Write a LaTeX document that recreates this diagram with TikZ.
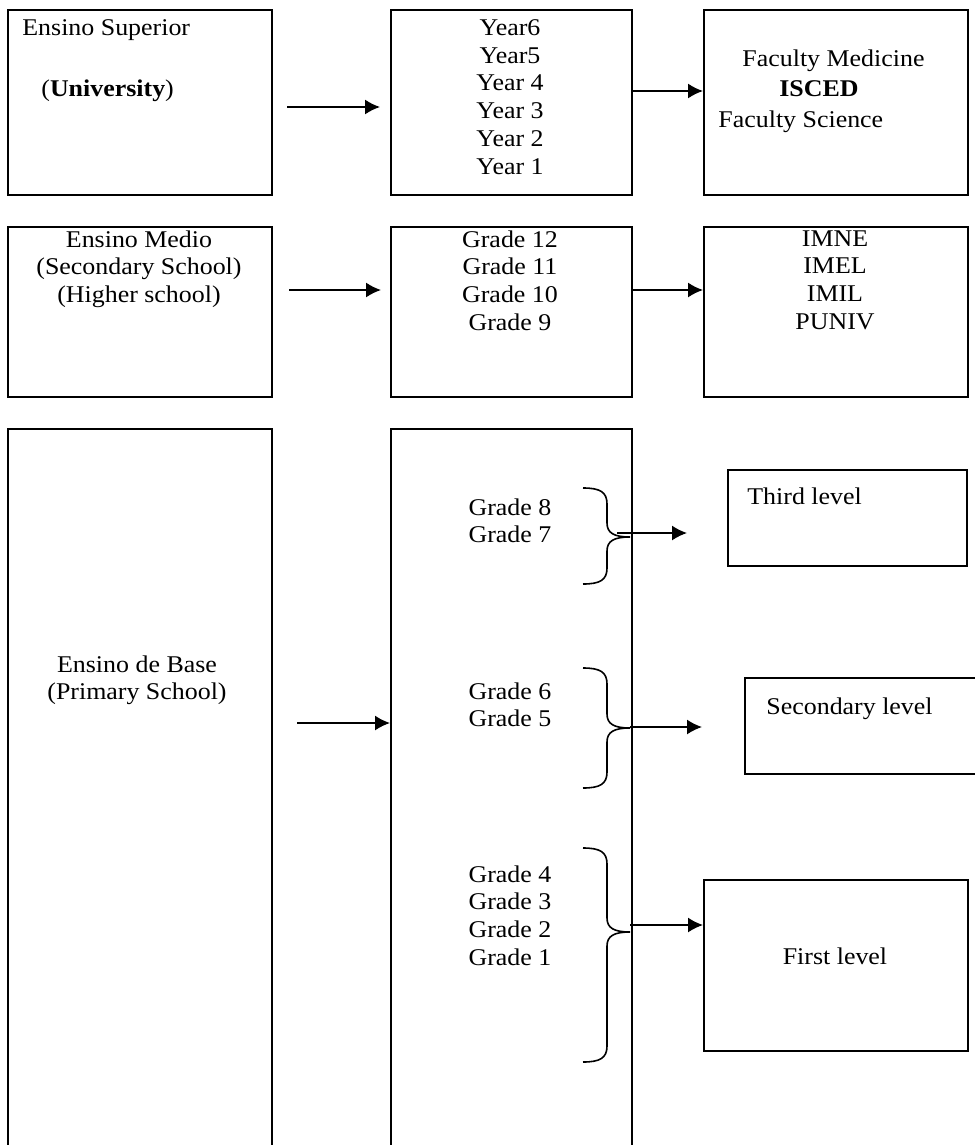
\documentclass[tikz,border=0pt]{standalone}
\usepackage{fontspec}
\setmainfont{Liberation Serif}[FakeStretch=1.08]
\usetikzlibrary{arrows.meta, positioning}
\tikzset{
  box/.style={
    rectangle,
    draw,
    line width=1pt,
    inner sep=0pt,
    anchor=north west
  },
  txt/.style={
    align=center,
    inner sep=0pt,
    anchor=north,
    font=\fontsize{12}{13.9}\selectfont
  },
  ltxt/.style={txt, anchor=north west},
  arrow/.style={-{Latex[length=7.5pt, width=7.5pt]}, line width=0.8pt},
  brace/.style={line width=0.8pt}
}
% curly bracket: top, tip, bottom
\newcommand{\levelbrace}[3]{%
  \draw[brace] (583,#1) .. controls (600,#1) and (607,{#1+4}) .. (607,{#1+16})
    -- (607,{#2-14}) .. controls (607,{#2-4}) and (614,#2) .. (630,#2)
    .. controls (614,#2) and (607,{#2+4}) .. (607,{#2+14})
    -- (607,{#3-16}) .. controls (607,{#3-4}) and (600,#3) .. (583,#3);}

\begin{document}
\begin{tikzpicture}[x=0.5pt, y=-0.5pt]
\useasboundingbox (0,0) rectangle (974,1145);

% university
\node[box, minimum width=132pt, minimum height=92.5pt] (superior) at (7,9) {};
\node[box, minimum width=120.5pt, minimum height=92.5pt] (years) at (390,9) {};
\node[box, minimum width=132pt, minimum height=92.5pt] (faculty) at (703,9) {};
\node[ltxt] (supname) at (22,19) {Ensino Superior};
\node[ltxt] (supsub) at (41,79) {(\textbf{University})};
\node[txt] (yearlist) at (510,19) {Year6\\Year5\\Year 4\\Year 3\\Year 2\\Year 1};
\node[ltxt] (facmed) at (742,49) {Faculty Medicine};
\node[ltxt] (isced) at (779,80) {\textbf{ISCED}};
\node[ltxt] (facsci) at (718,110) {Faculty Science};

\draw[arrow] ([xshift=7pt, yshift=-2.25pt]superior.east) -- ([xshift=-5pt, yshift=-2.25pt]years.west);
\draw[arrow] ([yshift=5.75pt]years.east) -- ([yshift=5.75pt]faculty.west);

% secondary school
\node[box, minimum width=132pt, minimum height=85pt] (medio) at (7,226) {};
\node[box, minimum width=120.5pt, minimum height=85pt] (grades) at (390,226) {};
\node[box, minimum width=132pt, minimum height=85pt] (institutes) at (703,226) {};
\node[txt] (medioname) at (139,230) {Ensino Medio\\(Secondary School)\\(Higher school)};
\node[txt] (gradelist) at (510,230) {Grade 12\\Grade 11\\Grade 10\\Grade 9};
\node[txt] (instlist) at (835,230) {IMNE\\IMEL\\IMIL\\PUNIV};

\draw[arrow] ([xshift=8pt, yshift=11pt]medio.east) -- ([xshift=-4.5pt, yshift=11pt]grades.west);
\draw[arrow] ([yshift=11pt]grades.east) -- ([yshift=11pt]institutes.west);

% primary school
\node[box, minimum width=132pt, minimum height=366pt] (base) at (7,428) {};
\node[box, minimum width=120.5pt, minimum height=366pt] (lower) at (390,428) {};
\node[txt] (basename) at (137,655) {Ensino de Base\\(Primary School)};
\node[txt] (grades87) at (510,498) {Grade 8\\Grade 7};
\node[txt] (grades65) at (510,682) {Grade 6\\Grade 5};
\node[txt] (grades41) at (510,865) {Grade 4\\Grade 3\\Grade 2\\Grade 1};

\draw[arrow] ([shift={(12pt,-147.5pt)}]base.north east) -- ([yshift=-147.5pt]lower.north west);

% levels
\node[box, minimum width=119.5pt, minimum height=48pt] (third) at (727,469) {};
\node[box, minimum width=128pt, minimum height=48pt] (secondary) at (744,677) {};
\node[box, minimum width=132pt, minimum height=85.5pt] (first) at (703,879) {};
\node[ltxt] (thirdname) at (747,487) {Third level};
\node[ltxt] (secname) at (766,697) {Secondary level};
\node[txt] (firstname) at (835,947) {First level};

\levelbrace{488}{537}{584}
\levelbrace{668}{728}{788}
\levelbrace{848}{932}{1062}

\coordinate (tip1) at (617,533);
\coordinate (end1) at (687,533);
\coordinate (tip2) at (630,727);
\coordinate (end2) at (702,727);
\coordinate (tip3) at (630,925);
\draw[arrow] (tip1) -- (end1);
\draw[arrow] (tip2) -- (end2);
\draw[arrow] (tip3) -- (tip3 -| first.west);
\end{tikzpicture}
\end{document}
